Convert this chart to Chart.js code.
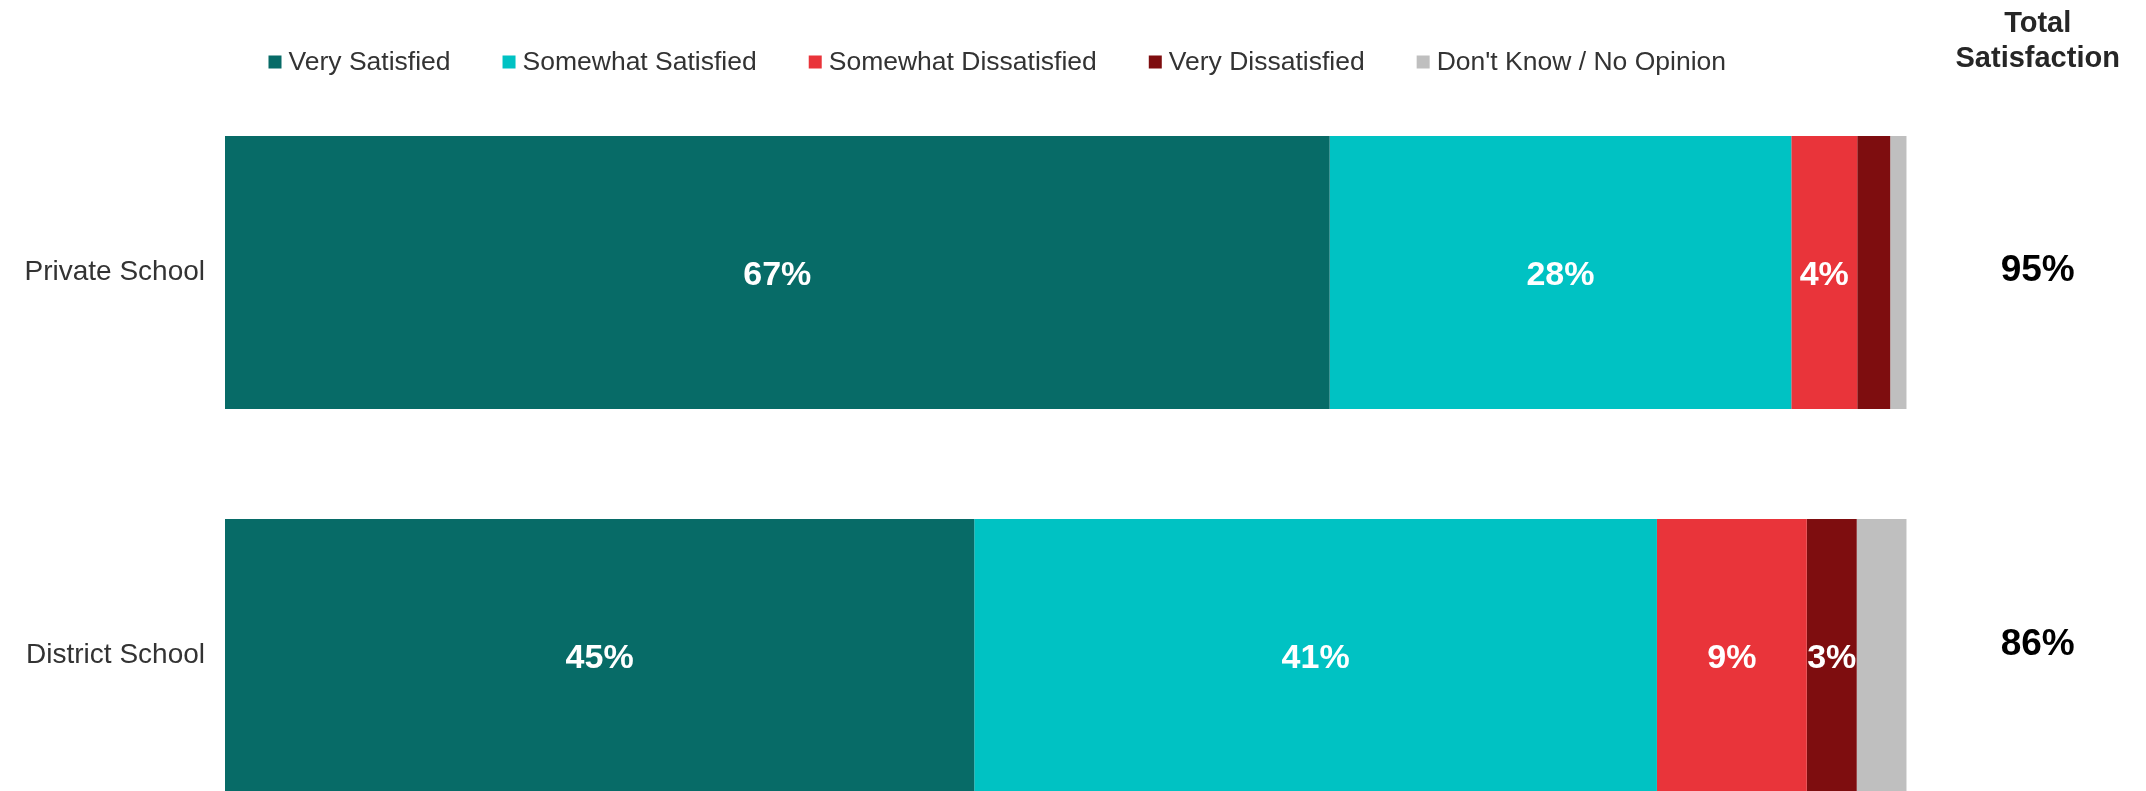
<!DOCTYPE html>
<html>
<head>
<meta charset="utf-8">
<script src="https://cdn.jsdelivr.net/npm/chart.js@4.4.1/dist/chart.umd.min.js"></script>
<style>
  html, body { margin: 0; padding: 0; background: #ffffff; overflow: hidden; }
  #wrap { width: 2146px; height: 791px; overflow: hidden; position: relative; }
  canvas { display: block; }
</style>
</head>
<body>
<div id="wrap"><canvas id="c" width="2146" height="870"></canvas></div>
<script>
// ---- data ----
const categories = ['Private School', 'District School'];
const seriesNames = ['Very Satisfied', 'Somewhat Satisfied', 'Somewhat Dissatisfied', 'Very Dissatisfied', "Don't Know / No Opinion"];
const verySatisfied = [67, 45];
const somewhatSatisfied = [28, 41];
const somewhatDissatisfied = [4, 9];
const veryDissatisfied = [2, 3];
const dontKnow = [1, 3];
const totalSatisfaction = [95, 86];
const totalHeader = ['Total', 'Satisfaction'];

const seriesValues = [verySatisfied, somewhatSatisfied, somewhatDissatisfied, veryDissatisfied, dontKnow];
const colors = ['#076B67', '#00C2C3', '#E9343A', '#7E0D0F', '#BFBFBF'];

// 100% stacked: each category normalised to its own total
const catTotals = categories.map((_, i) => seriesValues.reduce((s, arr) => s + arr[i], 0));

const datasets = seriesValues.map((arr, k) => ({
  label: seriesNames[k],
  data: arr.map((v, i) => v / catTotals[i] * 100),
  raw: arr,
  backgroundColor: colors[k],
  borderWidth: 0,
  categoryPercentage: 1.0,
  barPercentage: 0.7128
}));

const labelPlugin = {
  id: 'labels',
  afterDatasetsDraw(chart) {
    const ctx = chart.ctx;
    ctx.save();
    // in-bar labels
    ctx.font = 'bold 34px "Liberation Sans", Arial, sans-serif';
    ctx.fillStyle = '#ffffff';
    ctx.textAlign = 'center';
    ctx.textBaseline = 'middle';
    chart.data.datasets.forEach((ds, k) => {
      if (k > 3) return;
      const meta = chart.getDatasetMeta(k);
      meta.data.forEach((el, i) => {
        const v = ds.raw[i];
        if (v < 3) return;
        const p = el.getCenterPoint();
        ctx.fillText(v + '%', p.x, p.y + 3);
      });
    });
    // total satisfaction column
    const area = chart.chartArea;
    const cx = area.right + 131;
    const meta0 = chart.getDatasetMeta(0);
    const yOff = [-2, -11];
    ctx.font = 'bold 37px "Liberation Sans", Arial, sans-serif';
    ctx.fillStyle = '#000000';
    meta0.data.forEach((el, i) => {
      ctx.fillText(totalSatisfaction[i] + '%', cx, el.y + yOff[i]);
    });
    ctx.font = 'bold 29px "Liberation Sans", Arial, sans-serif';
    ctx.fillStyle = '#262626';
    ctx.fillText(totalHeader[0], cx, 23.5);
    ctx.fillText(totalHeader[1], cx, 59);

    // legend
    ctx.font = '26.5px "Liberation Sans", Arial, sans-serif';
    ctx.textAlign = 'left';
    ctx.textBaseline = 'alphabetic';
    let x = 268.5;
    seriesNames.forEach((name, k) => {
      ctx.fillStyle = colors[k];
      ctx.fillRect(x, 55.5, 13, 13);
      ctx.fillStyle = '#333333';
      ctx.fillText(name, x + 20, 70);
      x += 20 + ctx.measureText(name).width + 52;
    });
    ctx.restore();
  }
};

new Chart(document.getElementById('c'), {
  type: 'bar',
  data: { labels: categories, datasets },
  options: {
    indexAxis: 'y',
    responsive: false,
    animation: false,
    layout: { padding: { top: 81, right: 239.3, bottom: 23, left: 0 } },
    plugins: {
      legend: { display: false },
      tooltip: { enabled: false }
    },
    scales: {
      x: { stacked: true, min: 0, max: 100, display: false },
      y: {
        stacked: true,
        grid: { display: false, drawTicks: false },
        border: { display: false },
        ticks: {
          color: '#333333',
          padding: 20,
          font: { family: '"Liberation Sans", Arial, sans-serif', size: 28 }
        },
        afterFit(scale) {
          scale.width = 225;
          scale.paddingTop = 0;
          scale.paddingBottom = 0;
        }
      }
    }
  },
  plugins: [labelPlugin]
});
</script>
</body>
</html>
